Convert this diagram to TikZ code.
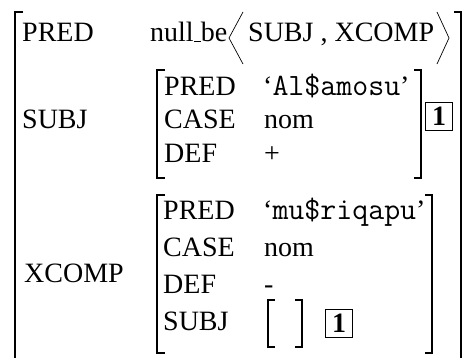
\documentclass[tikz,border=0pt]{standalone}
\usepackage{fontspec}
\setmainfont{Liberation Serif}
\begin{document}
\begin{tikzpicture}[x=1pt,y=-1pt,
  lab/.style={anchor=base west, inner sep=0pt, font=\fontsize{28}{32}\selectfont},
  mono/.style={font=\fontsize{31}{34}\ttfamily},
  br/.style={line width=1.2pt},
  ang/.style={line width=0.7pt},
  tag/.style={draw, line width=0.9pt, inner sep=0pt, minimum width=27pt, minimum height=28pt, font=\fontsize{28}{32}\selectfont\bfseries}]
\useasboundingbox (0,0) rectangle (463,358);
% outer brackets
\draw[br] (23,12) -- (15,12) -- (15,358);
\draw[br] (454,12) -- (461,12) -- (461,358);
% row 1
\node[lab] (p1) at (22,42) {PRED};
\node[lab] (nb) at (150,42) {null\rule{0.25em}{0.04em}be};
\draw[ang] (243,12) -- (229,38) -- (243,64);
\node[lab] (args) at (248,42) {SUBJ , XCOMP};
\draw[ang] (437,12) -- (449,38) -- (437,64);
% SUBJ
\node[lab] (s1) at (22,129) {SUBJ};
\draw[br] (165,70) -- (157,70) -- (157,178) -- (165,178);
\draw[br] (414,70) -- (421,70) -- (421,178) -- (414,178);
\node[lab] (sp) at (164,96) {PRED};
\node[lab] (sc) at (164,129) {CASE};
\node[lab] (sd) at (164,163) {DEF};
\node[lab] (spv) at (263,96) {‘{\fontsize{31}{34}\ttfamily Al\$amosu}’};
\node[lab] (scv) at (264,129) {nom};
\node[lab] (sdv) at (264,163) {+};
\node[tag] (t1) at (439,116) {1};
% XCOMP
\node[lab] (x1) at (24,282) {XCOMP};
\draw[br] (165,195) -- (157,195) -- (157,353) -- (165,353);
\draw[br] (425,195) -- (432,195) -- (432,353) -- (425,353);
\node[lab] (xp) at (163,219) {PRED};
\node[lab] (xc) at (163,256) {CASE};
\node[lab] (xd) at (163,293) {DEF};
\node[lab] (xs) at (163,330) {SUBJ};
\node[lab] (xpv) at (263,219) {‘{\fontsize{31}{34}\ttfamily mu\$riqapu}’};
\node[lab] (xcv) at (264,256) {nom};
\node[lab] (xdv) at (264,293) {-};
\draw[br] (275,300) -- (268,300) -- (268,347) -- (275,347);
\draw[br] (295,300) -- (302,300) -- (302,347) -- (295,347);
\node[tag] (t2) at (339,323) {1};
\end{tikzpicture}
\end{document}
